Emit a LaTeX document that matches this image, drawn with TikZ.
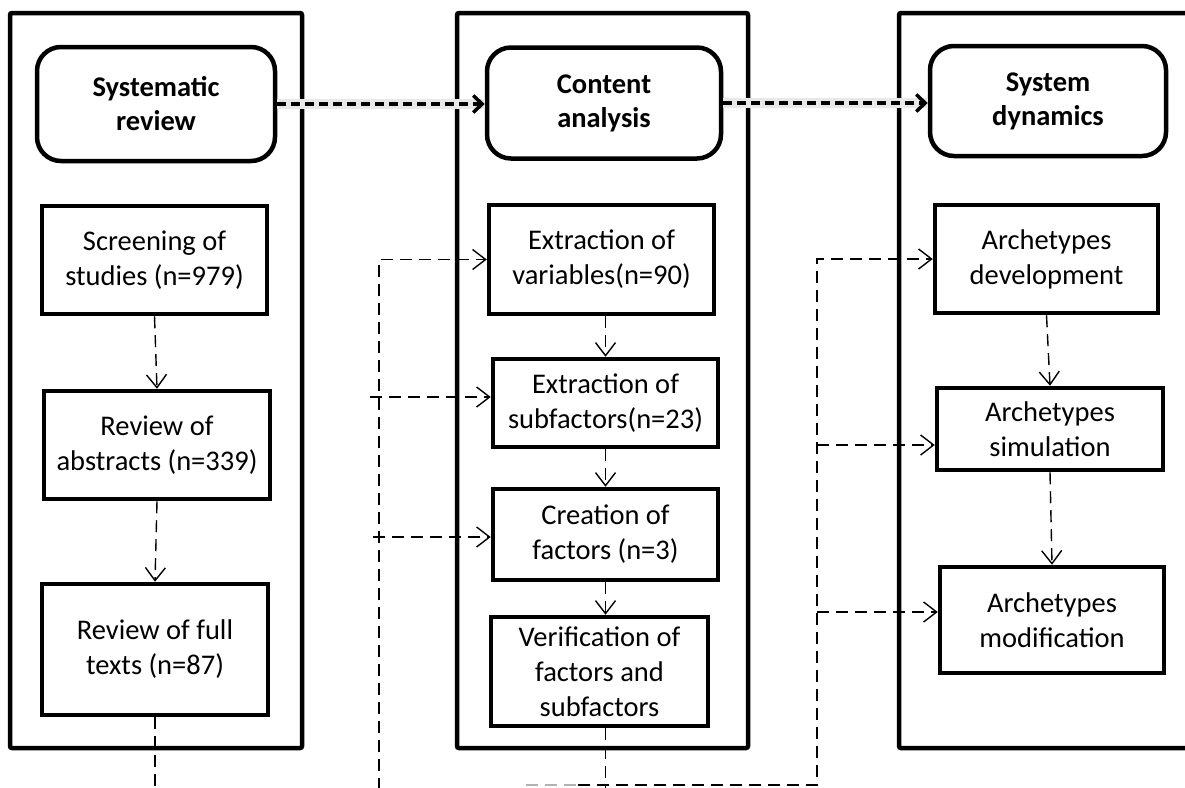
\documentclass[tikz,border=0pt]{standalone}
\usepackage{fontspec}
\setmainfont{Carlito}
\usetikzlibrary{arrows.meta}
\begin{document}
\begin{tikzpicture}[x=1pt,y=-1pt,
  panel/.style={line width=4.5pt, rounded corners=2pt},
  headbox/.style={draw, line width=4.5pt, rounded corners=24pt, align=center, font=\fontsize{28.5}{34}\selectfont\bfseries, inner sep=0pt},
  stepbox/.style={draw, line width=4.5pt, align=center, font=\fontsize{28.5}{35}\selectfont, inner sep=0pt},
  flow/.style={line width=1.4pt, dash pattern=on 12pt off 7pt, -{Straight Barb[length=13pt,width=20pt,line width=1.4pt]}},
  link/.style={line width=1.4pt, dash pattern=on 12pt off 7pt},
  bold/.style={line width=3.5pt, dash pattern=on 9pt off 5pt, -{Straight Barb[length=9pt,width=17pt,line width=3.5pt]}},
  glow/.style={line width=10pt, black!9}
]
\useasboundingbox (0,0) rectangle (1185,787);
% panels
\draw[panel] (10,13) rectangle (302,748);
\draw[panel] (457,13) rectangle (748,748);
\draw[panel] (1200,13) -- (899,13) -- (899,748) -- (1200,748);
% header boxes
\node[headbox, minimum width=238pt, minimum height=114pt] (sr) at (156,104) {Systematic\\review};
\node[headbox, minimum width=234pt, minimum height=111pt] (ca) at (604,103) {Content\\analysis};
\node[headbox, minimum width=236pt, minimum height=110pt] (sd) at (1048,101) {System\\dynamics};
% left column
\node[stepbox, minimum width=225pt, minimum height=108pt] (s1) at (154.5,260) {Screening of\\studies (n=979)};
\node[stepbox, minimum width=226pt, minimum height=108pt] (s2) at (157,445) {Review of\\abstracts (n=339)};
\node[stepbox, minimum width=226pt, minimum height=131pt] (s3) at (155,649.5) {Review of full\\texts (n=87)};
% middle column
\node[stepbox, minimum width=225pt, minimum height=109pt] (m1) at (601.5,259.5) {Extraction of\\variables(n=90)};
\node[stepbox, minimum width=225pt, minimum height=88pt] (m2) at (605.5,403) {Extraction of\\subfactors(n=23)};
\node[stepbox, minimum width=225pt, minimum height=91pt] (m3) at (605.5,534.5) {Creation of\\factors (n=3)};
\node[stepbox, minimum width=217pt, minimum height=109pt] (m4) at (599.5,671.5) {Verification of\\factors and\\subfactors};
% right column
\node[stepbox, minimum width=223pt, minimum height=108pt] (r1) at (1046.5,259) {Archetypes\\development};
\node[stepbox, minimum width=226pt, minimum height=82pt] (r2) at (1050,429) {Archetypes\\simulation};
\node[stepbox, minimum width=224pt, minimum height=106pt] (r3) at (1052,620) {Archetypes\\modification};
% bold links between header boxes
\draw[glow] (sr.east) -- (sr.east -| ca.west);
\draw[bold] (sr.east) -- (sr.east -| ca.west);
\draw[glow] (ca.east) -- (ca.east -| sd.west);
\draw[bold] (ca.east) -- (ca.east -| sd.west);
% left column flow
\draw[flow] (s1.south) -- (s2.north);
\draw[flow] (s2.south) -- (s3.north);
\coordinate (b1) at (155,790);
\draw[link] (s3.south) -- (b1);
% feed into middle column
\coordinate (la) at (379,790);
\draw[flow] (la) |- (m1.west);
\coordinate (lb) at (370,397);
\draw[flow] (lb) -- (lb -| m2.west);
\coordinate (lc) at (373,537);
\draw[flow] (lc) -- (lc -| m3.west);
% middle column flow
\draw[flow] (m1.south -| m2.north) -- (m2.north);
\draw[flow] (m2.south) -- (m3.north);
\draw[flow] (m3.south) -- (m3.south |- m4.north);
\coordinate (b2) at (605.5,790);
\draw[link] (m3.south |- m4.south) -- (b2);
% feed into right column
\coordinate (rs) at (526,785);
\coordinate (rm) at (578,785);
\coordinate (ra) at (817,785);
\draw[link, black!30] (rs) -- (rm);
\draw[flow] (rm) -- (ra) |- (r1.west);
\coordinate (rb) at (817,445);
\draw[flow] (rb) -- (rb -| r2.west);
\coordinate (rc) at (817,612);
\draw[flow] (rc) -- (rc -| r3.west);
% right column flow
\draw[flow] (r1.south) -- (r2.north);
\draw[flow] (r2.south) -- (r3.north);
\end{tikzpicture}
\end{document}
